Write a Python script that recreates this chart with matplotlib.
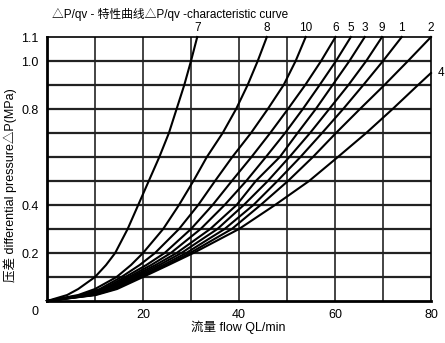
# ==========================================
# LIBRARIES
# ==========================================

import matplotlib
matplotlib.use("Agg")

import matplotlib.pyplot as plt


plt.rcParams["font.family"] = ["Liberation Sans", "Noto Sans CJK SC", "DejaVu Sans"]


# ==========================================
# DATA (pressure levels in MPa, flow in L/min)
# ==========================================

pressure = [0, 0.025, 0.05, 0.1, 0.15, 0.2, 0.3, 0.4, 0.5, 0.6, 0.7, 0.8, 0.9, 1.0, 1.1]

flow_7 = [0, 4.2, 6.5, 10.0, 12.3, 14.2, 16.8, 19.0, 21.2, 23.4, 25.4, 27.0, 28.6, 30.0, 31.3]
flow_8 = [0, 6.5, 10.0, 14.5, 17.5, 20.0, 24.2, 27.5, 30.5, 33.3, 36.6, 39.4, 41.8, 43.9, 45.8]
flow_10 = [0, 7.3, 11.0, 15.5, 19.3, 22.5, 27.5, 31.5, 35.0, 38.6, 42.5, 46.0, 49.3, 51.8, 53.9]
flow_6 = [0, 7.8, 11.6, 16.3, 20.7, 24.5, 30.0, 34.5, 38.5, 42.6, 46.5, 50.2, 53.8, 57.1, 60.1]
flow_5 = [0, 8.2, 12.1, 17.0, 21.7, 25.8, 32.0, 37.0, 41.5, 45.6, 49.6, 53.3, 56.8, 60.2, 63.3]
flow_3 = [0, 8.6, 12.6, 17.6, 22.6, 27.0, 34.0, 39.5, 43.5, 48.5, 52.2, 56.0, 59.5, 63.0, 66.2]
flow_9 = [0, 9.0, 13.1, 18.2, 23.4, 28.0, 35.5, 41.0, 46.0, 50.5, 54.8, 58.8, 62.8, 66.5, 69.8]
flow_1 = [0, 9.4, 13.6, 18.8, 24.2, 29.0, 37.0, 43.0, 48.0, 52.8, 57.3, 61.7, 65.9, 70.0, 73.9]
flow_2 = [0, 9.8, 14.1, 19.4, 24.9, 29.8, 38.5, 44.5, 50.2, 55.4, 60.2, 65.2, 70.3, 75.2, 80.0]

pressure_4 = [0, 0.025, 0.05, 0.1, 0.15, 0.2, 0.3, 0.4, 0.5, 0.6, 0.7, 0.8, 0.9, 0.95]
flow_4 = [0, 10.2, 14.6, 20.0, 25.3, 30.5, 40.0, 47.5, 54.6, 60.6, 66.5, 72.0, 77.3, 80.0]

curves = [
    ("7", flow_7), ("8", flow_8), ("10", flow_10), ("6", flow_6),
    ("5", flow_5), ("3", flow_3), ("9", flow_9), ("1", flow_1), ("2", flow_2),
]

x_ticks = [20, 40, 60, 80]
y_ticks = [0.2, 0.4, 0.8, 1.0, 1.1]


# ==========================================
# FIGURE
# ==========================================

fig = plt.figure(figsize=(4.45, 3.43), dpi=100)
ax = fig.add_axes([0.1056, 0.1224, 0.8629, 0.7697])

ax.set_xlim(0, 80)
ax.set_ylim(0, 1.1)


# ==========================================
# GRID
# ==========================================

for gx in range(10, 80, 10):
    ax.axvline(gx, color="#111111", lw=1.1, zorder=1)

for i in range(1, 11):
    ax.axhline(i / 10, color="#222222", lw=1.6, zorder=1)


# ==========================================
# CURVES
# ==========================================

for name, flow in curves:
    ax.plot(flow, pressure, color="black", lw=1.5, zorder=3, clip_on=False)
    ax.text(flow[-1], 1.137, name, ha="center", va="center", fontsize=8.5)

ax.plot(flow_4, pressure_4, color="black", lw=1.5, zorder=3, clip_on=False)
ax.text(81.5, pressure_4[-1], "4", ha="left", va="center", fontsize=8.5)


# ==========================================
# AXES AND TEXTS
# ==========================================

for side in ["left", "bottom"]:
    ax.spines[side].set_linewidth(2.0)
for side in ["top", "right"]:
    ax.spines[side].set_linewidth(1.2)

ax.set_xticks(x_ticks)
ax.set_yticks(y_ticks)
ax.set_yticklabels(["0.2", "0.4", "0.8", "1.0", "1.1"])
ax.tick_params(length=0, labelsize=9, pad=6)

ax.text(-2.5, -0.045, "0", ha="center", va="center", fontsize=9)

fig.text(0.117, 0.958, "△P/qv - 特性曲线△P/qv -characteristic curve",
         ha="left", va="center", fontsize=8.5)

fig.text(0.535, 0.045, "流量 flow QL/min", ha="center", va="center", fontsize=9)

fig.text(0.022, 0.46, "压差 differential pressure△P(MPa)",
         rotation=90, ha="center", va="center", fontsize=9)


# ==========================================
# SAVE
# ==========================================

fig.savefig("out.png", dpi=100)
